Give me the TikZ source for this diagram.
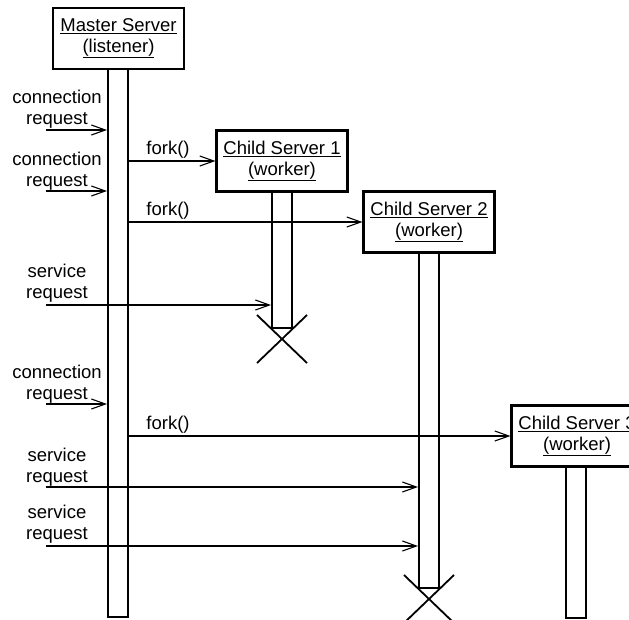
\documentclass[tikz,border=0pt]{standalone}
\usepackage{fontspec}
\setmainfont{Liberation Sans}
\usetikzlibrary{arrows.meta}
\begin{document}
\begin{tikzpicture}[x=1pt,y=-1pt,
  every node/.style={font=\fontsize{18.5}{20.5}\selectfont, inner sep=0pt},
  objbox/.style={draw, line width=2.1pt, minimum width=131pt, minimum height=61pt, align=center, fill=white},
  lifeline/.style={draw, line width=2pt, minimum width=20pt, fill=white},
  msg/.style={line width=1.6pt, -{Straight Barb[length=14pt,width=10pt,line width=1.1pt]}},
  lbl/.style={align=center},
  endmark/.style={line width=1.8pt}]
\useasboundingbox (0,0) rectangle (629,619);
\clip (0,0) rectangle (629,619);

% activation bars
\node[lifeline, minimum height=548pt] (mline) at (118,343) {};
\node[lifeline, minimum height=137pt] (c1line) at (282,259.5) {};
\node[lifeline, minimum height=336pt] (c2line) at (429,420) {};
\node[lifeline, minimum height=151pt] (c3line) at (576,542) {};

% participants
\node[objbox] (master) at (118.5,38.5) {\underline{Master Server}\\\underline{(listener)}};
\node[objbox] (c1box) at (282,161) {\underline{Child Server 1}\\\underline{(worker)}};
\node[objbox] (c2box) at (429,222) {\underline{Child Server 2}\\\underline{(worker)}};
\node[objbox] (c3box) at (577,436) {\underline{Child Server 3}\\\underline{(worker)}};

% incoming requests
\coordinate (cr1) at (46,130);
\coordinate (cr2) at (46,191);
\coordinate (sr1) at (46,305);
\coordinate (cr3) at (46,404);
\coordinate (sr2) at (46,487);
\coordinate (sr3) at (46,546);

\node[lbl] (lcr1) at (57,109) {connection\\request};
\node[lbl] (lcr2) at (57,171) {connection\\request};
\node[lbl] (lsr1) at (57,283) {service\\request};
\node[lbl] (lcr3) at (57,384) {connection\\request};
\node[lbl] (lsr2) at (57,467) {service\\request};
\node[lbl] (lsr3) at (57,524) {service\\request};

\draw[msg] (cr1) -- (mline.west |- cr1);
\draw[msg] (cr2) -- (mline.west |- cr2);
\draw[msg] (sr1) -- (c1line.west |- sr1);
\draw[msg] (cr3) -- (mline.west |- cr3);
\draw[msg] (sr2) -- (c2line.west |- sr2);
\draw[msg] (sr3) -- (c2line.west |- sr3);

% forks
\draw[msg] (mline.east |- c1box.west) -- (c1box.west);
\draw[msg] (mline.east |- c2box.west) -- (c2box.west);
\draw[msg] (mline.east |- c3box.west) -- (c3box.west);
\node (f1) at (168,150) {fork()};
\node (f2) at (168,211) {fork()};
\node (f3) at (168,425) {fork()};

% terminations
\draw[endmark] ([shift={(-25,-14)}]c1line.south) -- ([shift={(25,34)}]c1line.south)
               ([shift={(25,-14)}]c1line.south) -- ([shift={(-25,34)}]c1line.south);
\draw[endmark] ([shift={(-25,-14)}]c2line.south) -- ([shift={(25,34)}]c2line.south)
               ([shift={(25,-14)}]c2line.south) -- ([shift={(-25,34)}]c2line.south);
\end{tikzpicture}
\end{document}
